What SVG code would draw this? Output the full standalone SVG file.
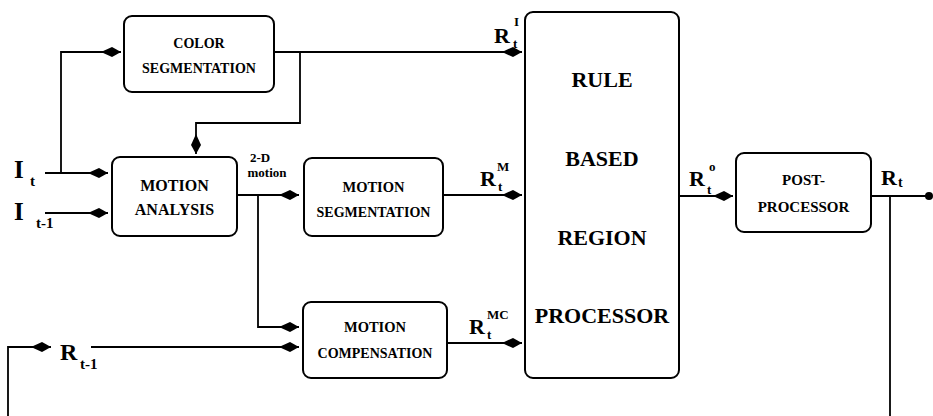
<svg xmlns="http://www.w3.org/2000/svg" width="933" height="416" viewBox="0 0 933 416">
<defs>
<style>
.box{fill:#fff;stroke:#000;stroke-width:2}
.ln{fill:none;stroke:#000;stroke-width:1.8}
text{font-family:Liberation Serif,serif;font-weight:bold;fill:#000}
.c{text-anchor:middle}
</style>
<marker id="ah" markerUnits="userSpaceOnUse" markerWidth="22" markerHeight="12" viewBox="-20 -6 21 12" refX="0" refY="0" orient="auto">
<path d="M0,0 L-9,-5 L-20,0 L-9,5 Z" fill="#000"/>
</marker>
</defs>
<rect width="933" height="416" fill="#fff"/>
<g id="connectors">
<path class="ln" d="M45,173 H108" marker-end="url(#ah)"/>
<path class="ln" d="M61,173 V52 H121" marker-end="url(#ah)"/>
<path class="ln" d="M45,213 H108" marker-end="url(#ah)"/>
<path class="ln" d="M274,52 H522" marker-end="url(#ah)"/>
<path class="ln" d="M300,52 V123 H196 V154" marker-end="url(#ah)"/>
<path class="ln" d="M237,195 H299" marker-end="url(#ah)"/>
<path class="ln" d="M258,195 V327 H299" marker-end="url(#ah)"/>
<path class="ln" d="M91,347 H299" marker-end="url(#ah)"/>
<path class="ln" d="M8,420 V347 H51" marker-end="url(#ah)"/>
<path class="ln" d="M443,195 H522" marker-end="url(#ah)"/>
<path class="ln" d="M447,343 H522" marker-end="url(#ah)"/>
<path class="ln" d="M679,196 H733" marker-end="url(#ah)"/>
<path class="ln" d="M871,196 H929"/>
<circle cx="929" cy="196" r="4" fill="#000"/>
<path class="ln" d="M890,196 V420"/>
</g>
<g id="color-seg">
<rect class="box" x="124" y="16" width="150" height="76" rx="8"/>
<text class="c" font-family="Liberation Serif" x="199" y="48" font-size="14">COLOR</text>
<text class="c" font-family="Liberation Serif" x="199" y="73" font-size="14">SEGMENTATION</text>
</g>
<g id="motion-analysis">
<rect class="box" x="112" y="157" width="125" height="79" rx="8"/>
<text class="c" font-family="Liberation Serif" x="174.5" y="191" font-size="16">MOTION</text>
<text class="c" font-family="Liberation Serif" x="174.5" y="215" font-size="16">ANALYSIS</text>
</g>
<g id="motion-seg">
<rect class="box" x="304" y="158" width="139" height="78" rx="8"/>
<text class="c" font-family="Liberation Serif" x="373.5" y="192" font-size="14.5">MOTION</text>
<text class="c" font-family="Liberation Serif" x="373.5" y="217" font-size="14">SEGMENTATION</text>
</g>
<g id="motion-comp">
<rect class="box" x="303" y="302" width="144" height="76" rx="8"/>
<text class="c" font-family="Liberation Serif" x="375" y="332" font-size="14.5">MOTION</text>
<text class="c" font-family="Liberation Serif" x="375" y="358" font-size="14">COMPENSATION</text>
</g>
<g id="rule-processor">
<rect class="box" x="525" y="12" width="154" height="366" rx="8"/>
<text class="c" font-family="Liberation Serif" x="602" y="87" font-size="22">RULE</text>
<text class="c" font-family="Liberation Serif" x="602" y="166" font-size="22">BASED</text>
<text class="c" font-family="Liberation Serif" x="602" y="245" font-size="22">REGION</text>
<text class="c" font-family="Liberation Serif" x="602" y="323" font-size="22">PROCESSOR</text>
</g>
<g id="post-processor">
<rect class="box" x="736" y="153" width="135" height="79" rx="8"/>
<text class="c" font-family="Liberation Serif" x="803.5" y="185" font-size="15">POST-</text>
<text class="c" font-family="Liberation Serif" x="803.5" y="212" font-size="15">PROCESSOR</text>
</g>
<g id="labels" font-family="Liberation Serif">
<text x="14" y="178" font-size="25">I</text><text x="30" y="186" font-size="15">t</text>
<text x="14" y="220" font-size="25">I</text><text x="36" y="228" font-size="15">t-1</text>
<text class="c" x="260" y="162" font-size="13">2-D</text>
<text class="c" x="267" y="177" font-size="13">motion</text>
<text x="494" y="43" font-size="22">R</text><text x="513" y="48" font-size="13">t</text><text x="514" y="26" font-size="13">I</text>
<text x="480" y="186" font-size="22">R</text><text x="498" y="191" font-size="13">t</text><text x="497" y="171" font-size="13">M</text>
<text x="469" y="334" font-size="22">R</text><text x="487" y="339" font-size="13">t</text><text x="487" y="319" font-size="13">MC</text>
<text x="689" y="186" font-size="22">R</text><text x="707" y="194" font-size="13">t</text><text x="709" y="171" font-size="13">o</text>
<text x="881" y="185" font-size="22">R</text><text x="898" y="187" font-size="14">t</text>
<text x="60" y="360" font-size="24">R</text><text x="80" y="369" font-size="15">t-1</text>
</g>
</svg>
